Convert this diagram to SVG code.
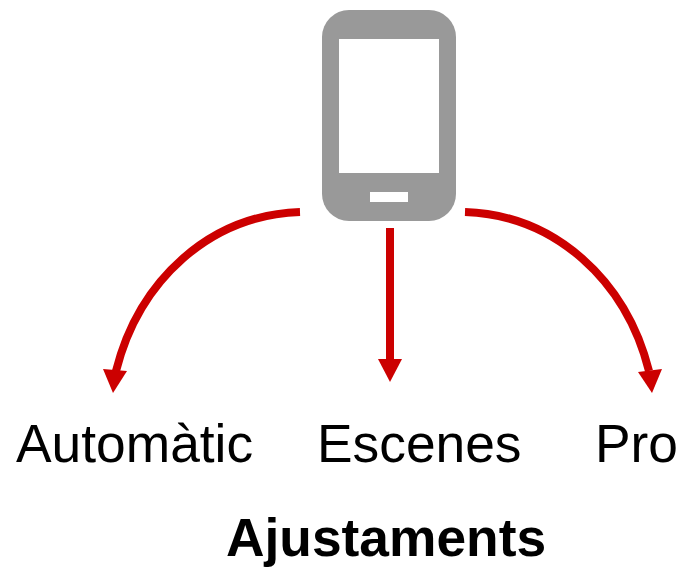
<svg xmlns="http://www.w3.org/2000/svg" width="682" height="567" viewBox="0 0 682 567">
<style>
.c{fill:none;stroke:#c00;stroke-width:8}
.h{fill:#c00}
.t{font-family:"Liberation Sans",Arial,sans-serif;font-size:53.33px;fill:#000}
.b{font-weight:bold}
</style>
<rect width="682" height="567" fill="#fff"/>
<g id="phone">
<rect x="322" y="10" width="134" height="211" rx="27" fill="#999"/>
<rect x="339" y="39" width="100" height="134" fill="#fff"/>
<rect x="370" y="192" width="38" height="10" fill="#fff"/>
</g>
<g id="connectors">
<path class="c" d="M300 212C210 215 139 280 116 371"/>
<polygon class="h" points="103,369 127,371 113,393"/>
<path class="c" d="M390 228V360"/>
<polygon class="h" points="378,359 402,359 390,382"/>
<path class="c" d="M465 212C555 215 626 280 649 371"/>
<polygon class="h" points="638,372 662,369 652,393"/>
</g>
<g id="automatic"><text class="t" x="16" y="462">Automàtic</text></g>
<g id="escenes"><text class="t" x="317" y="462">Escenes</text></g>
<g id="pro"><text class="t" x="595" y="462">Pro</text></g>
<g id="ajustaments"><text class="t b" x="226" y="556">Ajustaments</text></g>
</svg>
